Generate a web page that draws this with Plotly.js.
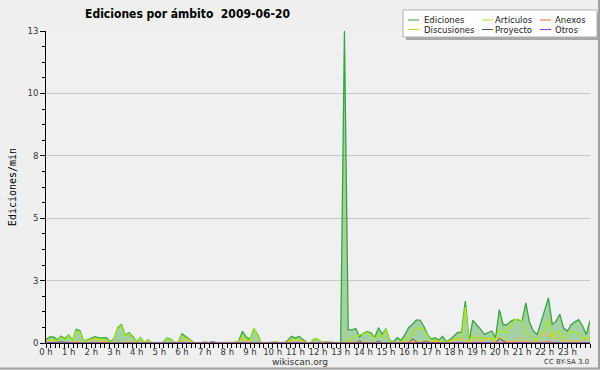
<!DOCTYPE html>
<html>
<head>
<meta charset="utf-8">
<script src="https://cdn.plot.ly/plotly-3.0.1.min.js"></script>
<style>html,body{margin:0;padding:0;background:#f0f0f0;}#chart{width:600px;height:370px;}</style>
</head>
<body>
<div id="chart"></div>
<script>
// 10-minute samples, 00:00 .. 24:00 (145 values)
const ediciones = [
0.15,0.25,0.25,0.13,0.29,0.18,0.33,0.11,0.57,0.51,0.07,0.13,
0.22,0.26,0.21,0.21,0.22,0.05,0.18,0.64,0.77,0.32,0.43,0.26,
0.05,0.22,0.01,0.13,0,0,0,0.02,0.21,0.15,0.02,0.02,
0.38,0.26,0.15,0.03,0,0,0.04,0.01,0.05,0.01,0,0,
0,0,0.04,0.07,0.49,0.25,0.15,0.6,0.35,0.01,0,0,
0.05,0.05,0.01,0,0.11,0.28,0.2,0.28,0.14,0.03,0,0.18,
0.15,0.02,0.05,0.05,0.02,0,0,13,0.55,0.55,0.6,0.25,
0.4,0.47,0.42,0.22,0.64,0.36,0.6,0.1,0.05,0.22,0.1,0.35,
0.64,0.78,0.95,0.95,0.7,0.35,0.15,0.22,0.12,0.28,0.05,0.15,
0.3,0.44,0.44,1.75,0.1,0.95,0.75,0.58,0.36,0.42,0.5,0.21,
1.39,0.76,0.76,0.9,0.97,0.97,0.9,1.67,0.85,0.5,0.35,0.85,
1.4,1.88,0.78,0.9,1.2,0.62,0.5,0.76,0.88,0.97,0.72,0.35,
0.93];
const articulos = [
0.08,0.12,0.15,0.1,0.25,0.12,0.3,0.08,0.5,0.45,0.05,0.1,
0.15,0.2,0.15,0.15,0.15,0.03,0.15,0.6,0.72,0.28,0.4,0.2,
0.03,0.2,0.01,0.12,0,0,0,0,0.18,0.12,0.02,0.02,
0.3,0.2,0.1,0.02,0,0,0.02,0,0.01,0,0,0,
0,0,0.02,0.04,0.3,0.15,0.1,0.6,0.33,0.01,0,0,
0.05,0.05,0.01,0,0.06,0.15,0.12,0.15,0.08,0.02,0,0.18,
0.15,0.02,0.03,0.03,0.01,0,0,0.05,0.12,0.18,0.25,0.35,
0.38,0.43,0.35,0.18,0.35,0.25,0.57,0.06,0.03,0.05,0.05,0.15,
0.22,0.35,0.6,0.64,0.55,0.3,0.08,0.12,0.08,0.1,0.03,0.1,
0.15,0.2,0.2,1.5,0.07,0.28,0.22,0.2,0.2,0.18,0.22,0.15,
0.55,0.5,0.45,0.7,0.95,1.0,0.9,0.45,0.3,0.15,0.08,0.3,
0.5,0.98,0.2,0.4,0.5,0.2,0.3,0.5,0.45,0.4,0.2,0.2,
0.22];
const discusiones = [
0.1,0.1,0.05,0.03,0,0.02,0,0.02,0.08,0.05,0,0.02,
0.1,0.18,0.08,0.05,0.05,0.02,0.02,0.02,0.03,0.02,0.02,0.05,
0,0.02,0,0,0,0,0,0,0,0,0,0,
0.1,0.15,0.08,0.01,0,0,0.04,0.01,0,0,0,0,
0,0,0.03,0.05,0.15,0.12,0.05,0,0,0,0,0,
0,0,0,0,0.05,0.15,0.08,0.15,0.05,0.01,0,0,
0,0.02,0.05,0.05,0.02,0,0,0,0.05,0.05,0.03,0.02,
0.05,0.02,0.05,0.02,0.03,0.05,0.02,0.02,0,0.03,0.02,0.05,
0.05,0.08,0.05,0.1,0.05,0.02,0.05,0.1,0.05,0.02,0,0.03,
0.1,0.15,0.18,0.08,0.05,0.1,0.2,0.12,0.1,0.2,0.15,0.05,
0.2,0.22,0.1,0.05,0.08,0.1,0.22,0.1,0.05,0.02,0.1,0.3,
0.42,0.25,0.42,0.2,0.15,0.1,0.08,0.1,0.05,0.1,0.05,0.25,
0.05];
const proyecto = [
0,0,0,0.03,0.05,0.03,0,0,0,0,0,0,
0,0,0,0,0,0,0,0,0,0,0,0,
0,0,0,0,0,0,0,0,0,0,0,0,
0,0,0,0,0,0,0,0,0.05,0,0,0,
0,0,0,0,0,0.03,0,0,0,0,0,0,
0,0,0,0,0,0,0,0,0,0,0,0,
0,0,0,0,0,0,0,0,0,0,0,0.08,
0,0,0,0,0.08,0,0,0,0,0,0,0,
0,0.18,0.05,0,0.05,0.05,0,0,0,0,0,0,
0,0,0,0,0,0,0,0,0,0,0,0,
0.18,0.08,0,0,0,0,0,0,0,0,0,0,
0,0,0,0,0,0,0,0,0,0,0,0,
0];
const anexos = [
0,0,0,0,0,0,0,0,0,0,0,0,
0,0,0,0,0,0,0,0,0,0,0,0,
0,0,0,0,0,0,0,0,0,0,0,0,
0,0,0,0,0,0,0,0,0,0,0,0,
0,0,0,0,0,0,0,0,0,0,0,0,
0,0,0,0,0,0,0,0,0,0,0,0,
0,0,0,0,0,0,0,0,0,0,0,0,
0,0,0,0,0,0,0,0,0,0,0,0,
0,0,0,0,0,0,0,0,0,0,0,0,
0,0,0,0,0,0,0,0,0,0,0,0,
0,0,0,0,0,0,0,0,0,0,0,0,
0.03,0.06,0.03,0,0,0,0,0,0,0,0,0,
0];
const otros = [
0,0,0,0,0,0,0,0,0,0,0,0,
0,0,0,0,0,0,0,0,0,0,0,0,
0,0,0,0,0,0,0,0,0,0,0,0,
0,0,0,0,0,0,0,0,0,0,0,0,
0,0,0,0,0,0,0,0,0,0,0,0,
0,0,0,0,0,0,0,0,0,0,0,0,
0,0,0,0,0,0,0,0,0,0,0,0,
0,0,0,0,0,0,0,0,0,0,0,0,
0,0,0,0,0,0,0,0,0,0,0,0,
0,0,0,0,0,0,0,0,0,0,0,0,
0,0,0,0,0,0,0,0,0,0,0,0,
0,0,0,0,0,0,0,0,0,0,0,0,
0];
// sample times in hours (one sample every 10 minutes)
const horas = ediciones.map((v, i) => i / 6);

const seriesNames  = ["Ediciones", "Artículos", "Anexos", "Discusiones", "Proyecto", "Otros"];
const seriesColors = ["#3aa63a", "#a8e81a", "#ff6633", "#f5c518", "#555555", "#9933ff"];
const seriesWidths = [1.3, 1.3, 1, 1, 1, 1];
const seriesValues = [ediciones, articulos, anexos, discusiones, proyecto, otros];

const xTickVals = [0,1,2,3,4,5,6,7,8,9,10,11,12,13,14,15,16,17,18,19,20,21,22,23];
const xTickText = ["0 h","1 h","2 h","3 h","4 h","5 h","6 h","7 h","8 h","9 h","10 h","11 h",
                   "12 h","13 h","14 h","15 h","16 h","17 h","18 h","19 h","20 h","21 h","22 h","23 h"];
const yTickVals = [0, 2.6, 5.2, 7.8, 10.4, 13];
const yTickText = ["0","3","5","8","10","13"];

const data = [{
  type: 'scatter', mode: 'lines', x: horas, y: ediciones, name: 'Ediciones', showlegend: false,
  hoverinfo: 'skip', fill: 'tozeroy', fillcolor: 'rgba(70,170,70,0.45)', line: {width: 0, color: seriesColors[0]}
}];
seriesNames.forEach((n, k) => data.push({
  type: 'scatter', mode: 'lines', x: horas, y: seriesValues[k], name: n, showlegend: false,
  hoverinfo: 'skip', line: {color: seriesColors[k], width: seriesWidths[k]}
}));

// legend box drawn in pixel terms, converted to plot-area fractions
const L = 46, W = 544, T = 31, H = 312;
const px = X => (X - L) / W;
const py = Y => (T + H - Y) / H;
const shapes = [
  {type: 'rect', xref: 'paper', yref: 'paper', x0: px(406), x1: px(600), y0: py(40), y1: py(13),
   fillcolor: '#a8a8a8', line: {width: 0}, layer: 'above'},
  {type: 'rect', xref: 'paper', yref: 'paper', x0: px(403), x1: px(597), y0: py(37), y1: py(10),
   fillcolor: '#ffffff', line: {color: '#b0b0b0', width: 1}, layer: 'above'},
  {type: 'line', xref: 'paper', yref: 'paper', x0: px(599), x1: px(599), y0: py(369), y1: py(0), line: {color: '#a0a0a0', width: 2}},
  {type: 'line', xref: 'paper', yref: 'paper', x0: px(0), x1: px(600), y0: py(368.5), y1: py(368.5), line: {color: '#a0a0a0', width: 2}}
];
const annotations = [
  {text: 'wikiscan.org', xref: 'paper', yref: 'paper', x: px(300), y: py(361.5), xanchor: 'center', yanchor: 'middle',
   showarrow: false, font: {family: 'DejaVu Sans', size: 9, color: '#333'}},
  {text: 'CC BY-SA 3.0', xref: 'paper', yref: 'paper', x: px(591), y: py(362), xanchor: 'right', yanchor: 'middle',
   showarrow: false, font: {family: 'DejaVu Sans', size: 7, color: '#333'}}
];
const legCols = [408, 482, 540];
const legText = [422, 493, 553];
const legRows = [20, 29.5];
seriesNames.forEach((n, k) => {
  const c = k % 3, r = Math.floor(k / 3);
  shapes.push({type: 'line', xref: 'paper', yref: 'paper', x0: px(legCols[c]), x1: px(legCols[c] + 11),
               y0: py(legRows[r]), y1: py(legRows[r]), line: {color: seriesColors[k], width: 1}, layer: 'above'});
  annotations.push({text: n, xref: 'paper', yref: 'paper', x: px(legText[c]), y: py(legRows[r]),
               xanchor: 'left', yanchor: 'middle', showarrow: false,
               font: {family: 'DejaVu Sans', size: 8.5, color: '#222'}});
});

const layout = {
  width: 600, height: 370,
  margin: {l: L, r: 600 - L - W, t: T, b: 370 - T - H, pad: 0},
  paper_bgcolor: '#efefef',
  plot_bgcolor: '#eef0f2',
  font: {family: 'DejaVu Sans', size: 9, color: '#222'},
  title: {text: '<b>Ediciones por ámbito\u00a0\u00a02009-06-20</b>',
          font: {family: 'DejaVu Sans Condensed', size: 12, color: '#000'},
          x: 0.3125, xanchor: 'center', y: 0.962, yanchor: 'middle'},
  showlegend: false,
  xaxis: {range: [0, 24], tickmode: 'array', tickvals: xTickVals, ticktext: xTickText,
          ticks: 'outside', ticklen: 4, tickcolor: '#000', tickwidth: 1, ticklabelstandoff: -3,
          showline: true, linecolor: '#000', linewidth: 1, showgrid: false, zeroline: false,
          tickfont: {family: 'DejaVu Sans', size: 8.5, color: '#333'},
          minor: {tickmode: 'linear', tick0: 0, dtick: 0.2, ticks: 'outside', ticklen: 4, tickcolor: '#000', showgrid: false},
          fixedrange: true},
  yaxis: {range: [0, 13], tickmode: 'array', tickvals: yTickVals, ticktext: yTickText,
          ticks: 'outside', ticklen: 5, tickcolor: '#000',
          showline: true, linecolor: '#000', linewidth: 1, showgrid: true, gridcolor: '#c8c8c8', zeroline: false,
          tickfont: {family: 'DejaVu Sans', size: 8.5, color: '#333'},
          minor: {tickmode: 'linear', tick0: 0, dtick: 0.65, ticks: 'outside', ticklen: 3, tickcolor: '#000', showgrid: false},
          title: {text: 'Ediciones/min', font: {family: 'DejaVu Sans Mono', size: 10, color: '#000'}, standoff: 8},
          fixedrange: true},
  shapes: shapes,
  annotations: annotations
};

Plotly.newPlot('chart', data, layout, {displayModeBar: false, staticPlot: true});
</script>
</body>
</html>
